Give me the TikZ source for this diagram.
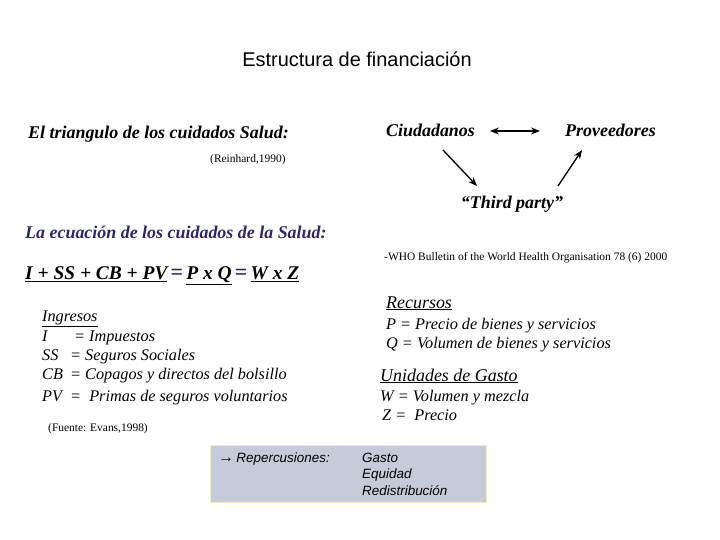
\documentclass[tikz,border=0pt]{standalone}
\usepackage{fontspec}
\setmainfont{Liberation Serif}
\newfontfamily\arialf{Liberation Sans}
\usetikzlibrary{arrows.meta}
\definecolor{navy}{RGB}{40,40,110}
\definecolor{boxfill}{RGB}{197,203,216}
\definecolor{boxline}{RGB}{240,240,200}
\tikzset{
 txt/.style={anchor=base west, inner sep=0pt},
 big/.style={txt, font=\fontsize{18}{21}\selectfont\bfseries\itshape},
 mid/.style={txt, font=\fontsize{16.3}{19}\selectfont\itshape},
 small/.style={txt, font=\fontsize{11.5}{13}\selectfont},
 sans/.style={txt, font=\arialf\fontsize{13.5}{15}\selectfont\itshape},
 arr/.style={-{Stealth[length=9pt,width=7pt]}, line width=1.3pt}
}
\begin{document}
\begin{tikzpicture}[x=1bp,y=-1bp]
\useasboundingbox[fill=white] (0,0) rectangle (720,540);
\node[anchor=base, inner sep=0pt, font=\arialf\fontsize{20}{23}\selectfont] (title) at (357,67) {Estructura de financiación};
\node[big] (tri) at (28,139) {El triangulo de los cuidados Salud:};
\node[small] (rein) at (210,163) {(Reinhard,1990)};
\node[big] (ciu) at (386,137) {Ciudadanos};
\node[big] (pro) at (565,137) {Proveedores};
\node[big, anchor=base] (third) at (512,209) {“Third party”};
\coordinate (a1) at (490,131); \coordinate (a2) at (540,131);
\draw[line width=1.3pt,{Stealth[length=9pt,width=7pt]}-{Stealth[length=9pt,width=7pt]}] (a1) -- (a2);
\coordinate (b1) at (443,150); \coordinate (b2) at (477,186);
\draw[arr] (b1) -- (b2);
\coordinate (c1) at (558,186); \coordinate (c2) at (582,150);
\draw[arr] (c1) -- (c2);
\node[big, text=navy] (ecu) at (25,239) {La ecuación de los cuidados de la Salud:};
\node[big, font=\fontsize{19.5}{22}\selectfont\bfseries\itshape] (eq) at (25,280) {\underline{I + SS + CB + PV}\,{\color{navy}\normalfont\fontsize{22}{22}\selectfont\bfseries =}\,\underline{P x Q}\,{\color{navy}\normalfont\fontsize{22}{22}\selectfont\bfseries =}\,\underline{W x Z}};
\node[mid] (ing) at (42,321) {\underline{Ingresos}};
\node[mid] (i1) at (42,341) {I};  \node[mid] (i1b) at (74,341) {= Impuestos};
\node[mid] (i2) at (42,360) {SS}; \node[mid] (i2b) at (70,360) {= Seguros Sociales};
\node[mid] (i3) at (42,379) {CB}; \node[mid] (i3b) at (70,379) {= Copagos y directos del bolsillo};
\node[mid] (i4) at (42,401) {PV}; \node[mid] (i4b) at (70,401) {=\ \ Primas de seguros voluntarios};
\node[small] (fue) at (48,431) {(Fuente: Evans,1998)};
\node[small] (who) at (384,261) {-WHO Bulletin of the World Health Organisation 78 (6) 2000};
\node[mid, font=\fontsize{18}{20}\selectfont\itshape] (rec) at (386,308) {\underline{Recursos}};
\node[mid] (p) at (386,329) {P = Precio de bienes y servicios};
\node[mid] (q) at (386,348) {Q = Volumen de bienes y servicios};
\node[mid, font=\fontsize{18}{20}\selectfont\itshape] (uni) at (380,381) {\underline{Unidades de Gasto}};
\node[mid] (w) at (380,401) {W = Volumen y mezcla};
\node[mid] (z) at (382,420) {Z =\ \ Precio};
\draw[fill=boxfill, draw=boxline] (210,445) rectangle (486,502);
\node[sans] (rep) at (218,462) {{\fontsize{16}{16}\selectfont\upshape →}\,Repercusiones:};
\node[sans] (g1) at (362,462) {Gasto};
\node[sans] (g2) at (362,478) {Equidad};
\node[sans] (g3) at (362,495) {Redistribución};
\end{tikzpicture}
\end{document}
